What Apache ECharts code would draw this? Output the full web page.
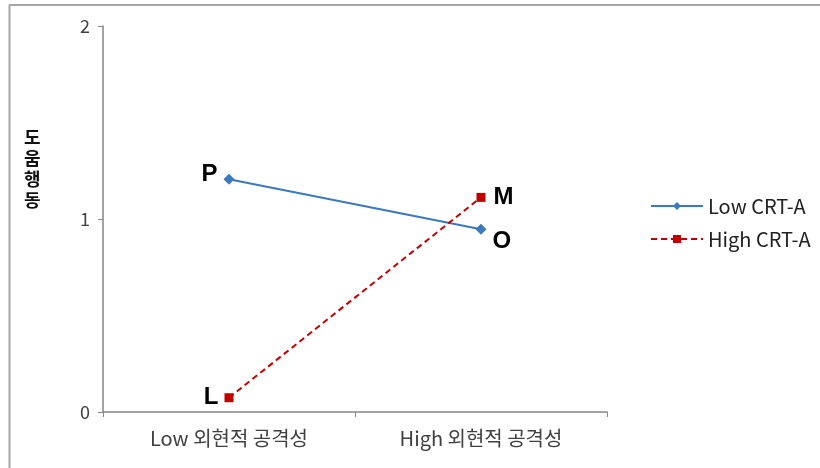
<!DOCTYPE html>
<html><head><meta charset="utf-8">
<script src="https://cdn.jsdelivr.net/npm/echarts@6/dist/echarts.min.js"></script>
<style>html,body{margin:0;padding:0;background:#fff}#c{width:820px;height:468px}</style>
</head><body><div id="c"></div>
<script>
const categories = ['Low 외현적 공격성', 'High 외현적 공격성'];
const lowCRT = [1.206, 0.947];
const highCRT = [0.074, 1.112];
const lowLetters = ['P', 'O'];
const highLetters = ['L', 'M'];
const yTicks = [0, 1, 2];
const yName = '도움행동';

const chart = echarts.init(document.getElementById('c'));
const krFont = '"Noto Sans CJK KR", "Noto Sans", sans-serif';
const letterStyle = { fontSize: 24, fontWeight: 'bold', color: '#000', fontFamily: 'Liberation Sans, Arial, sans-serif' };

function pts(vals, letters, positions) {
  return vals.map((v, i) => ({
    value: v,
    label: Object.assign({ show: true, formatter: letters[i] }, letterStyle, positions[i])
  }));
}

chart.setOption({
  animation: false,
  grid: { left: 103, right: 213, top: 26, bottom: 56 },
  legend: {
    orient: 'vertical', left: 645, top: 191, itemWidth: 52, itemHeight: 10, itemGap: 13,
    textStyle: { fontSize: 20, color: '#222', fontFamily: krFont },
    data: ['Low CRT-A', 'High CRT-A']
  },
  xAxis: {
    type: 'category', data: categories, boundaryGap: true,
    axisLine: { lineStyle: { color: '#868686', width: 1.5 } },
    axisTick: { show: true, length: 5, lineStyle: { color: '#868686' } },
    axisLabel: { fontSize: 20, color: '#404040', margin: 16, fontFamily: krFont }
  },
  yAxis: {
    type: 'value', min: yTicks[0], max: yTicks[yTicks.length - 1], interval: 1,
    splitLine: { show: false },
    axisLine: { show: true, lineStyle: { color: '#868686', width: 1.5 } },
    axisTick: { show: true, length: 5, lineStyle: { color: '#868686' } },
    axisLabel: { fontSize: 18, color: '#404040', margin: 13, fontFamily: krFont }
  },
  graphic: [
    { type: 'line', shape: { x1: 9, y1: 5, x2: 820, y2: 5 }, style: { stroke: '#a6a6a6', lineWidth: 2 } },
    { type: 'line', shape: { x1: 9.5, y1: 5, x2: 9.5, y2: 468 }, style: { stroke: '#a6a6a6', lineWidth: 2 } },
    { type: 'text', left: 24, top: 127, style: { text: yName.split('').join('\n'), fontSize: 18, fontWeight: 'bold', fontFamily: 'Noto Sans CJK KR', lineHeight: 21, fill: '#111' } }
  ],
  series: [
    {
      name: 'Low CRT-A', type: 'line', symbol: 'diamond', symbolSize: 11,
      itemStyle: { color: '#3c78bd' }, lineStyle: { color: '#3c78bd', width: 2 },
      data: pts(lowCRT, lowLetters, [
        { position: 'left', distance: 6, offset: [0, -5] },
        { position: 'right', distance: 6, offset: [0, 12] }
      ])
    },
    {
      name: 'High CRT-A', type: 'line', symbol: 'rect', symbolSize: 9,
      itemStyle: { color: '#c00000' }, lineStyle: { color: '#c00000', width: 2, type: [6, 4] },
      data: pts(highCRT, highLetters, [
        { position: 'left', distance: 6, offset: [0, 0] },
        { position: 'right', distance: 8, offset: [0, 0] }
      ])
    }
  ]
});
</script></body></html>
